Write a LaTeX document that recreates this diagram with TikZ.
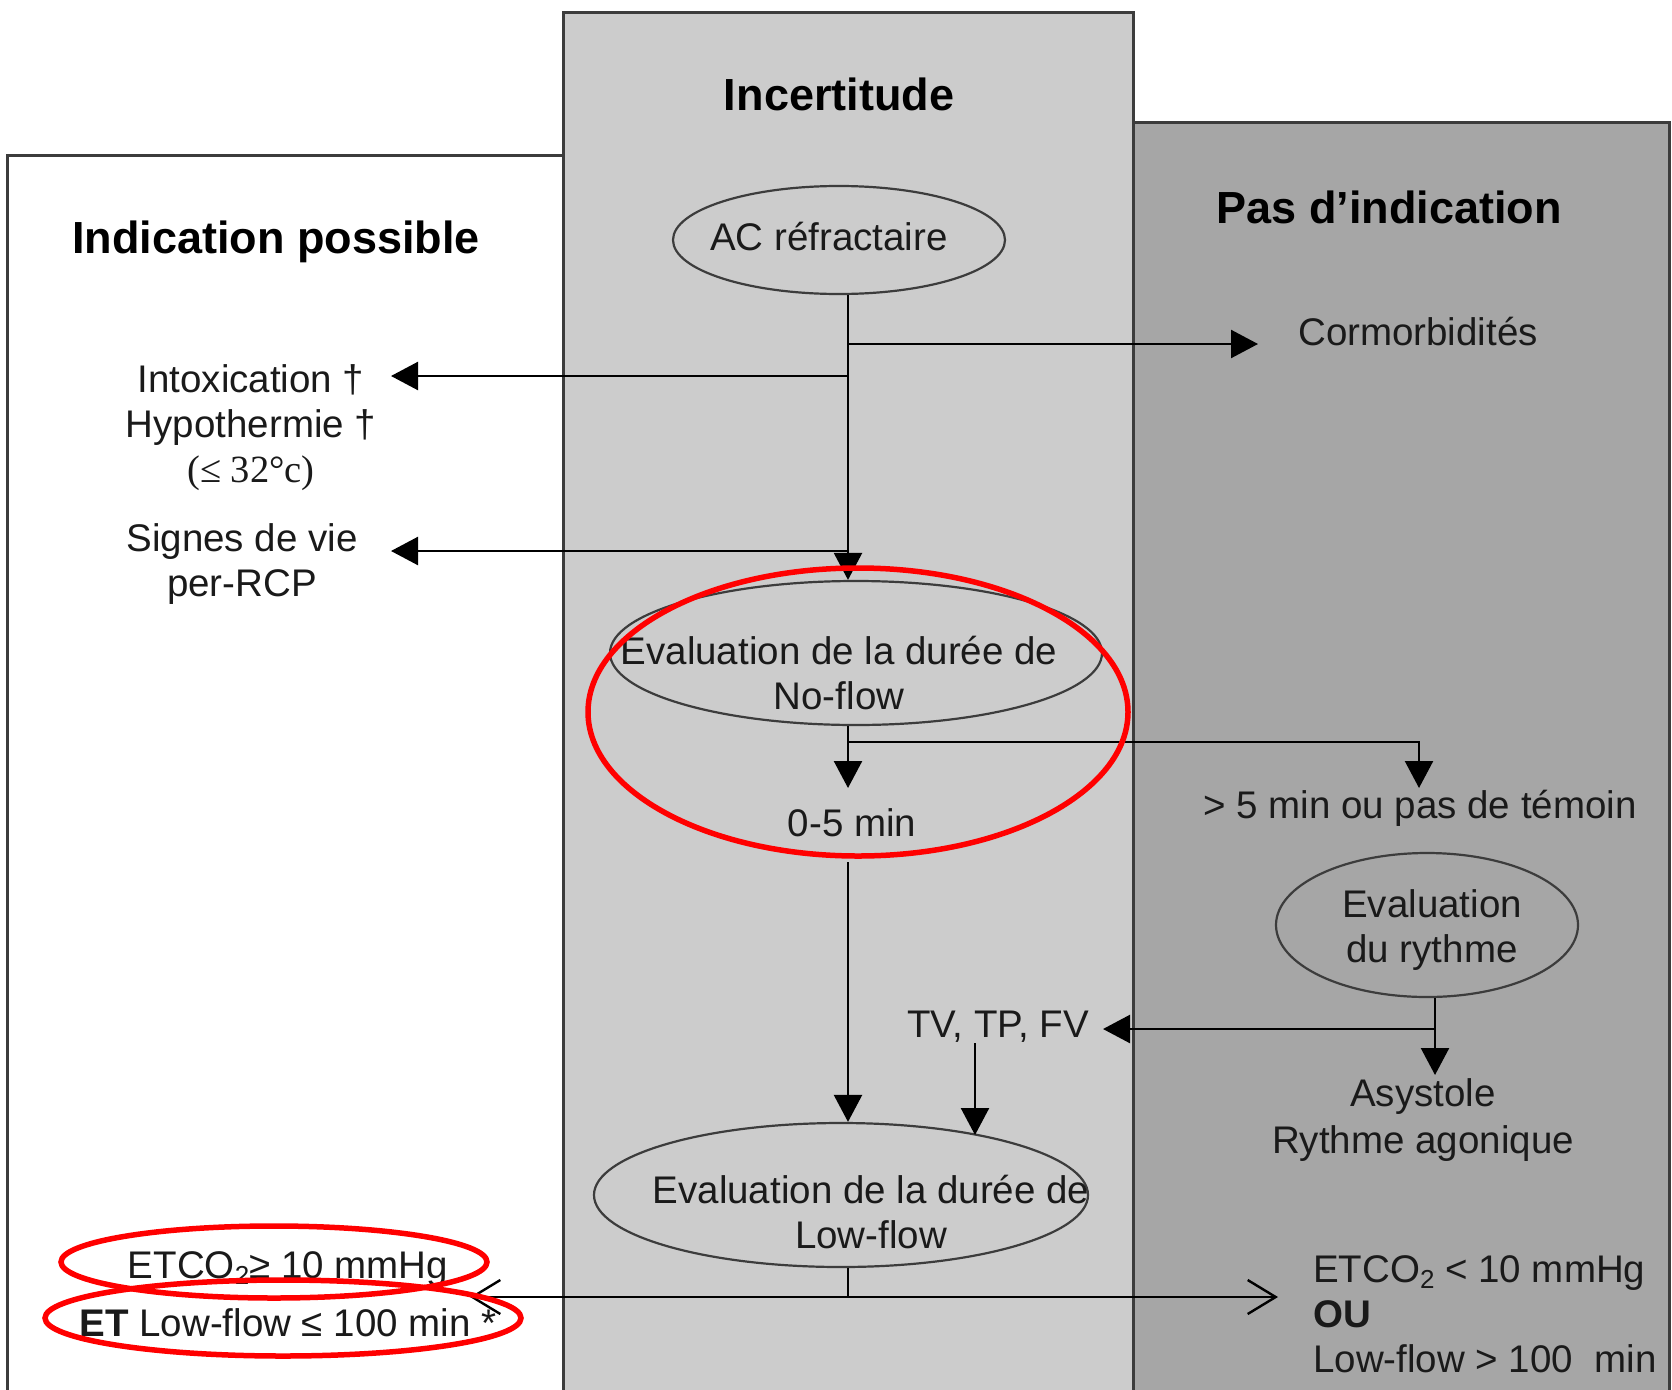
\documentclass[tikz,border=0pt]{standalone}
\usepackage{fontspec}
\setmainfont{Liberation Sans}
\newfontfamily\seriffont{Liberation Serif}
\usetikzlibrary{arrows.meta,shapes.geometric}
\definecolor{midgray}{HTML}{CCCCCC}
\definecolor{darkgray2}{HTML}{A6A6A6}
\definecolor{ink}{HTML}{1A1A1A}
\newcommand\subtwo{\raisebox{-0.3ex}{\fontsize{26}{26}\selectfont 2}}
\tikzset{
  panel/.style={draw=ink!85, line width=3pt},
  ell/.style={ellipse, draw=ink!85, line width=2.2pt, inner sep=0pt},
  txt/.style={font=\fontsize{38.5}{45}\selectfont, text=ink, inner sep=0pt, align=center},
  ttl/.style={font=\fontsize{45}{50}\selectfont\bfseries, text=black, inner sep=0pt},
  conn/.style={draw=black, line width=2.4pt},
  arr/.style={conn, -{Triangle[length=27pt,width=28pt]}},
  openarr/.style={conn, {Straight Barb[length=28pt,width=34pt,line width=2.4pt]}-{Straight Barb[length=28pt,width=34pt,line width=2.4pt]}},
  redmark/.style={draw=red, line width=5.5pt}
}
\begin{document}
\begin{tikzpicture}[x=1pt,y=-1pt]
\useasboundingbox (0,0) rectangle (1672,1389);
\clip (0,0) rectangle (1672,1389);
\fill[white] (0,0) rectangle (1672,1389);
% panels
\path[panel, fill=white] (7.5,1420) -- (7.5,155) -- (563,155) -- (563,1420);
\path[panel, fill=midgray] (563,1420) -- (563,13) -- (1133,13) -- (1133,1420);
\path[panel, fill=darkgray2] (1133,1420) -- (1133,122) -- (1669,122) -- (1669,1420);
% titles
\node[ttl] (tleft) at (276,242) {Indication possible};
\node[ttl] (tmid) at (839,94) {Incertitude};
\node[ttl] (tright) at (1389,207) {Pas d’indication};
% ellipses
\node[ell, minimum width=332pt, minimum height=108pt] (ac) at (839,240) {};
\node[ell, minimum width=492pt, minimum height=144pt] (nf) at (856,653) {};
\node[ell, minimum width=302pt, minimum height=144pt] (ry) at (1427,925) {};
\node[ell, minimum width=494pt, minimum height=144pt] (lf) at (841,1195) {};
% texts
\node[txt] (actxt) at (829,237) {AC réfractaire};
\node[txt] (cormo) at (1418,332) {Cormorbidités};
\node[txt] (intox) at (251,428) {Intoxication †\\Hypothermie †\\{\seriffont(≤ 32°c)}};
\node[txt] (signes) at (242,564) {Signes de vie\\per-RCP};
\node[txt] (nftxt) at (839,673) {Evaluation de la durée de\\No-flow};
\node[txt] (zero) at (852,823) {0-5 min};
\node[txt] (gt5) at (1420,808) {> 5 min ou pas de témoin};
\node[txt] (rytxt) at (1432,930) {Evaluation\\du rythme};
\node[txt, font=\fontsize{38.5}{47}\selectfont] (asys) at (1423,1120) {Asystole\\Rythme agonique};
\node[txt] (tv) at (998,1027) {TV, TP, FV};
\node[txt] (lftxt) at (871,1212) {Evaluation de la durée de\\Low-flow};
\node[txt] (etco) at (288,1269) {ETCO\subtwo≥ 10 mmHg};
\node[txt] (etlow) at (288,1323) {\textbf{ET} Low-flow ≤ 100 min *};
\node[txt, align=left, anchor=west] (nonind) at (1313,1314) {ETCO\subtwo{} < 10 mmHg\\\textbf{OU}\\Low-flow > 100~ min};
% coordinates
\coordinate (X) at (848,0);
\coordinate (j1) at (848,344);
\coordinate (t1) at (1258,344);
\coordinate (j2) at (848,376);
\coordinate (t2) at (391,376);
\coordinate (j3) at (848,551);
\coordinate (t3) at (391,551);
\coordinate (t4) at (848,788);
\coordinate (j4) at (848,742);
\coordinate (t5) at (1419,788);
\coordinate (s5) at (848,862);
\coordinate (Y) at (1435,0);
\coordinate (t6) at (1435,1075);
\coordinate (j6) at (1435,1029);
\coordinate (t7) at (1103,1029);
\coordinate (s8) at (975,1043);
\coordinate (j9) at (848,1297);
\coordinate (t9a) at (470,1297);
\coordinate (t9b) at (1278,1297);
% connectors
\draw[arr] (ac.south -| X) -- (nf.north -| X);
\draw[arr] (j1) -- (t1);
\draw[arr] (j2) -- (t2);
\draw[arr] (j3) -- (t3);
\draw[arr] (nf.south -| X) -- (t4);
\draw[arr] (j4) -| (t5);
\draw[arr] (s5) -- (lf.north -| X);
\draw[arr] (ry.south -| Y) -- (t6);
\draw[arr] (j6) -- (t7);
\draw[arr] (s8) -- (975,1135);
\draw[conn] (lf.south -| X) -- (j9);
\draw[openarr] (t9a) -- (t9b);
% red annotation marks
\draw[redmark] (858,712) ellipse [x radius=270, y radius=144];
\draw[redmark] (274,1262) ellipse [x radius=213, y radius=36];
\draw[redmark] (283,1318) ellipse [x radius=238, y radius=38];
\end{tikzpicture}
\end{document}
